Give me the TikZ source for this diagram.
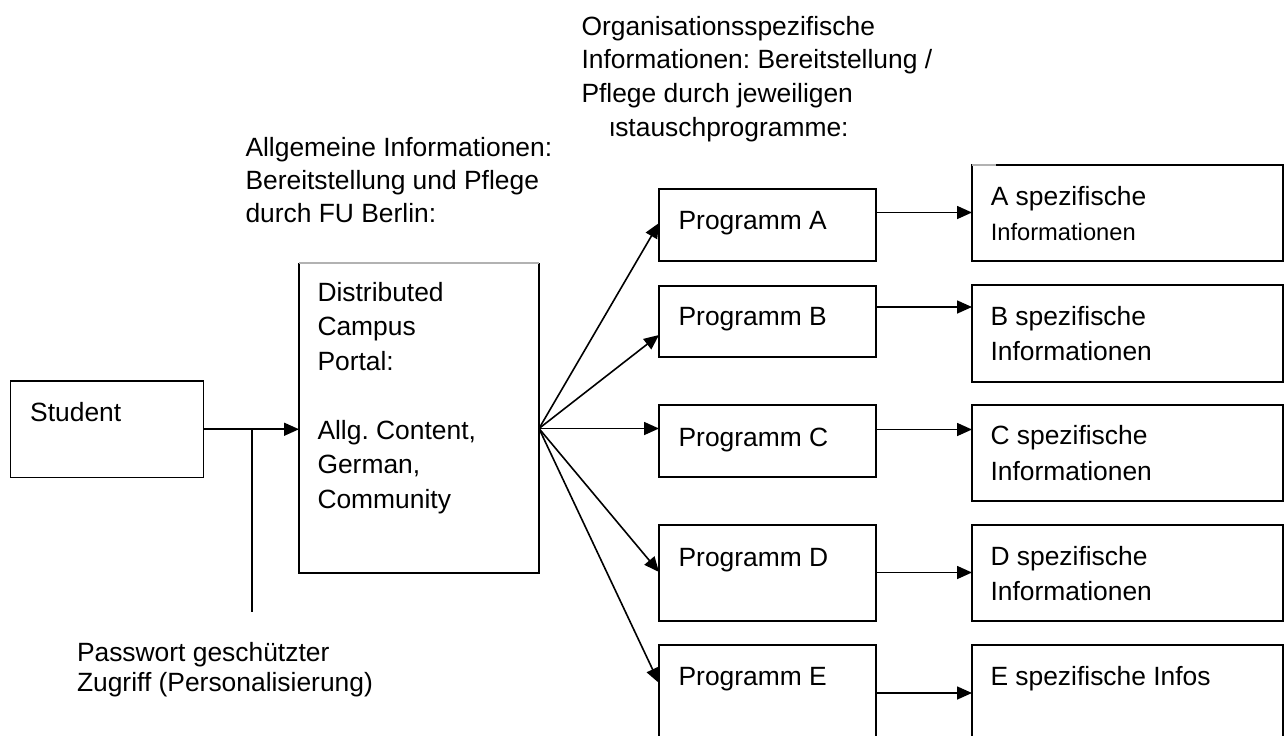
\documentclass[tikz,border=0pt]{standalone}
\usepackage{fontspec}
\setmainfont{Liberation Sans}
\usetikzlibrary{arrows.meta}
\frenchspacing
\newcommand\mlines[1]{\begin{tabular}[t]{@{}l@{}}#1\end{tabular}}
\tikzset{
  box/.style={draw=black, line width=1.6pt, rectangle, inner sep=0pt, outer sep=0pt, anchor=north west},
  txt/.style={inner sep=0pt, outer sep=0pt, anchor=base west, font=\fontsize{26.4}{34.5}\selectfont},
  conn/.style={line width=1.6pt},
  arr/.style={conn, -{Triangle[length=15pt,width=13pt]}},
  faint/.style={line width=1.6pt, draw=black!30},
}
\begin{document}
\begin{tikzpicture}[x=1pt,y=-1pt]
\useasboundingbox (0,0) rectangle (1285,736);

% boxes
\node[box, minimum width=193pt, minimum height=96.5pt] (student) at (10.5,381) {};
\node[box, draw=none, minimum width=240pt, minimum height=310pt] (portal) at (299,263) {};
\draw[conn] (portal.north west) -- (portal.south west) -- (portal.south east) -- (portal.north east);
\draw[faint] (portal.north west) -- (portal.north east);

\node[box, minimum width=217pt, minimum height=72pt] (progA) at (659,189) {};
\node[box, minimum width=217pt, minimum height=71pt] (progB) at (659,286) {};
\node[box, minimum width=217pt, minimum height=72pt] (progC) at (659,405) {};
\node[box, minimum width=217pt, minimum height=96pt] (progD) at (659,525) {};
\node[box, minimum width=217pt, minimum height=120pt] (progE) at (659,645) {};

\node[box, minimum width=311pt, minimum height=96pt] (specA) at (972,165) {};
\draw[faint] (specA.north west) -- ++(24,0);
\node[box, minimum width=311pt, minimum height=97pt] (specB) at (972,285) {};
\node[box, minimum width=311pt, minimum height=96pt] (specC) at (972,405) {};
\node[box, minimum width=311pt, minimum height=96pt] (specD) at (972,525) {};
\node[box, minimum width=311pt, minimum height=120pt] (specE) at (972,645) {};

% texts
\node[txt, font=\fontsize{26.4}{33.7}\selectfont] (headR) at (581.5,35)
  {\mlines{Organisationsspezifische\\Informationen: Bereitstellung /\\Pflege durch jeweiligen\\\hspace*{1.5pt}Austauschprogramme:}};
\fill[white] (578,113) rectangle (610.6,146);
\node[txt, font=\fontsize{26.4}{33}\selectfont] (headL) at (245.5,156.7)
  {\mlines{Allgemeine Informationen:\\Bereitstellung und Pflege\\durch FU Berlin:}};
\node[txt] (tstudent) at (30.2,421.7) {Student};
\node[txt] (tportal) at (317.5,301.2)
  {\mlines{Distributed\\Campus\\Portal:\\ \\Allg. Content,\\German,\\Community}};
\node[txt] (tA) at (678.6,229) {Programm A};
\node[txt] (tB) at (678.6,325) {Programm B};
\node[txt] (tC) at (678.6,446) {Programm C};
\node[txt] (tD) at (678.6,566) {Programm D};
\node[txt] (tE) at (678.6,685) {Programm E};
\node[txt, font=\fontsize{26.4}{35}\selectfont] (sA) at (990.8,205)
  {\mlines{A spezifische\\{\fontsize{23.7}{35}\selectfont Informationen}}};
\node[txt, font=\fontsize{26.4}{35.5}\selectfont] (sB) at (990.5,325) {\mlines{B spezifische\\Informationen}};
\node[txt, font=\fontsize{26.4}{35.5}\selectfont] (sC) at (990.5,444.5) {\mlines{C spezifische\\Informationen}};
\node[txt, font=\fontsize{26.4}{35.5}\selectfont] (sD) at (990.5,565) {\mlines{D spezifische\\Informationen}};
\node[txt] (sE) at (990.5,685) {E spezifische Infos};
\node[txt, font=\fontsize{26.4}{30.8}\selectfont] (pw) at (77,661)
  {\mlines{Passwort geschützter\\Zugriff (Personalisierung)}};

% connectors
\coordinate (join) at (252,429);
\coordinate (joinEnd) at (252,612);
\draw[arr] (student.east) -- (student.east -| portal.west);
\draw[conn] (join) -- (joinEnd);

\coordinate (fan) at (539,428.5);
\coordinate (inA) at (659,223);
\coordinate (inB) at (659,335);
\coordinate (inC) at (659,428.5);
\coordinate (inD) at (659,572);
\coordinate (inE) at (659,683);
\draw[arr] (fan) -- (inA);
\draw[arr] (fan) -- (inB);
\draw[arr] (fan) -- (inC);
\draw[arr] (fan) -- (inD);
\draw[arr] (fan) -- (inE);

\coordinate (oA) at (876,212.5);
\coordinate (oB) at (876,307);
\coordinate (oC) at (876,429.5);
\coordinate (oD) at (876,572.5);
\coordinate (oE) at (876,693);
\draw[arr] (oA) -- (oA -| specA.west);
\draw[arr] (oB) -- (oB -| specB.west);
\draw[arr] (oC) -- (oC -| specC.west);
\draw[arr] (oD) -- (oD -| specD.west);
\draw[arr] (oE) -- (oE -| specE.west);
\end{tikzpicture}
\end{document}
